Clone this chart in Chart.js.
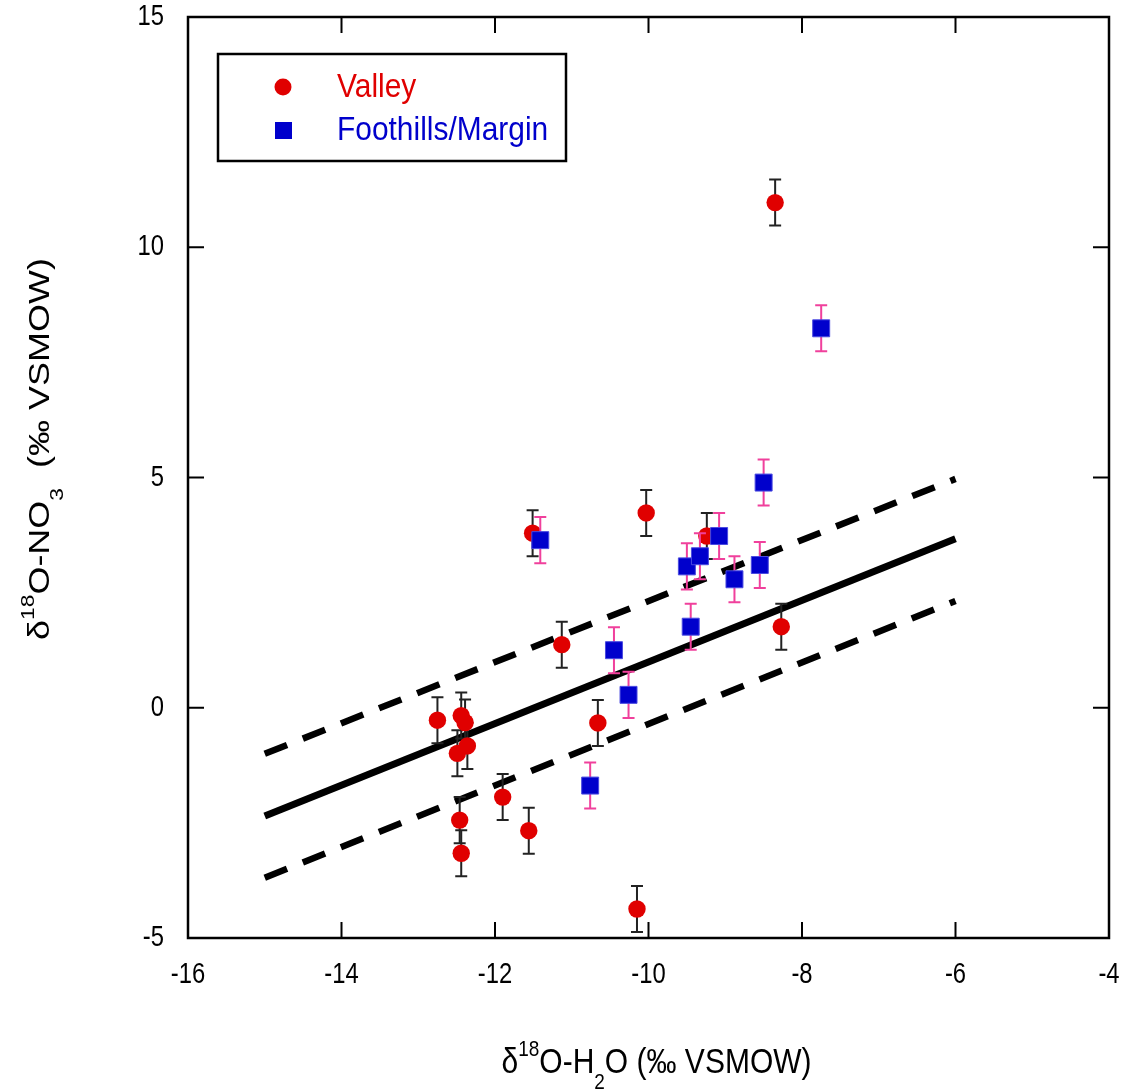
<!DOCTYPE html>
<html lang="en">
<head>
<meta charset="UTF-8">
<title>d18O nitrate vs water</title>
<script src="https://cdn.jsdelivr.net/npm/chart.js"></script>
<style>
  body { margin: 0; background: #fff; }
</style>
</head>
<body>
<canvas id="myChart" width="1122" height="1091"></canvas>
<script>
// Valley wells
const valleyX = [-12.75, -12.44, -12.39, -12.36, -12.49, -12.46, -12.44, -11.90, -11.56, -11.51, -11.13, -10.66, -10.15, -10.03, -9.24, -8.35, -8.27];
const valleyY = [-0.27, -0.17, -0.32, -0.83, -0.99, -2.44, -3.16, -1.94, -2.67, 3.79, 1.37, -0.33, -4.37, 4.23, 3.73, 10.97, 1.76];
const valleyErr = [0.5, 0.5, 0.5, 0.5, 0.5, 0.5, 0.5, 0.5, 0.5, 0.5, 0.5, 0.5, 0.5, 0.5, 0.5, 0.5, 0.5];

// Foothills / margin wells
const footX = [-11.41, -10.76, -10.45, -10.26, -9.50, -9.45, -9.33, -9.08, -8.88, -8.55, -8.50, -7.75];
const footY = [3.64, -1.69, 1.25, 0.28, 3.07, 1.76, 3.29, 3.73, 2.79, 3.10, 4.89, 8.24];
const footErr = [0.5, 0.5, 0.5, 0.5, 0.5, 0.5, 0.5, 0.5, 0.5, 0.5, 0.5, 0.5];

// regression line and its band
const fitX = [-15, -6];
const fitY = [-2.35, 3.67];
const upperY = [-1.0, 4.97];
const lowerY = [-3.69, 2.32];

// axis ticks
const xTicks = [-16, -14, -12, -10, -8, -6, -4];
const yTicks = [-5, 0, 5, 10, 15];

const toPts = (xs, ys) => xs.map((x, i) => ({ x: x, y: ys[i] }));
const FAM = '"Liberation Sans", Arial, sans-serif';

// narrow-looking label (the original figure is squeezed sideways)
function label(ctx, text, x, y, align, size, sx) {
    ctx.save();
    ctx.translate(x, y);
    ctx.scale(sx, 1);
    ctx.font = size + 'px ' + FAM;
    ctx.textAlign = align;
    ctx.textBaseline = 'middle';
    ctx.fillText(text, 0, 0);
    ctx.restore();
}

// draw text with super/subscripts, centred on 0, baseline at 0
function richText(ctx, parts, size) {
    const fontOf = p => ((p.sup || p.sub) ? Math.round(size * 0.62) : size) + 'px ' + FAM;
    const widths = parts.map(p => { ctx.font = fontOf(p); return ctx.measureText(p.t).width; });
    let x = -widths.reduce((a, b) => a + b, 0) / 2;
    ctx.textAlign = 'left';
    ctx.textBaseline = 'alphabetic';
    parts.forEach((p, i) => {
        ctx.font = fontOf(p);
        let dy = 0;
        if (p.sup) dy = -size * 0.5;
        if (p.sub) dy = size * 0.45;
        ctx.fillText(p.t, x, dy);
        x += widths[i];
    });
}

const frame = {
    id: 'frame',
    beforeDatasetDraw(chart, args) {
        // error bars under each scatter set
        const ds = chart.data.datasets[args.index];
        if (!ds.errs) return;
        const ctx = chart.ctx, xs = chart.scales.x, ys = chart.scales.y;
        ctx.save();
        ctx.strokeStyle = ds.errColor;
        ctx.lineWidth = 2;
        ds.data.forEach((p, i) => {
            const px = xs.getPixelForValue(p.x);
            const top = ys.getPixelForValue(p.y + ds.errs[i]);
            const bot = ys.getPixelForValue(p.y - ds.errs[i]);
            ctx.beginPath();
            ctx.moveTo(px, top); ctx.lineTo(px, bot);
            ctx.moveTo(px - 6, top); ctx.lineTo(px + 6, top);
            ctx.moveTo(px - 6, bot); ctx.lineTo(px + 6, bot);
            ctx.stroke();
        });
        ctx.restore();
    },
    afterDraw(chart) {
        const ctx = chart.ctx, a = chart.chartArea;
        const xs = chart.scales.x, ys = chart.scales.y;
        ctx.save();
        ctx.strokeStyle = '#000';
        ctx.lineWidth = 2.5;
        ctx.strokeRect(a.left, a.top, a.right - a.left, a.bottom - a.top);
        // inward ticks
        ctx.lineWidth = 2;
        ctx.beginPath();
        xTicks.forEach(v => {
            const px = xs.getPixelForValue(v);
            ctx.moveTo(px, a.bottom); ctx.lineTo(px, a.bottom - 16);
            ctx.moveTo(px, a.top); ctx.lineTo(px, a.top + 16);
        });
        yTicks.forEach(v => {
            const py = ys.getPixelForValue(v);
            ctx.moveTo(a.left, py); ctx.lineTo(a.left + 16, py);
            ctx.moveTo(a.right, py); ctx.lineTo(a.right - 16, py);
        });
        ctx.stroke();

        // tick labels
        ctx.fillStyle = '#000';
        xTicks.forEach(v => label(ctx, String(v), xs.getPixelForValue(v), a.bottom + 37, 'center', 29, 0.82));
        yTicks.forEach(v => label(ctx, String(v), a.left - 24, ys.getPixelForValue(v), 'right', 29, 0.82));

        // legend box
        const lx = a.left + 30, ly = a.top + 37;
        ctx.lineWidth = 2.5;
        ctx.strokeRect(lx, ly, 348, 107);
        const v = chart.data.datasets[0], f = chart.data.datasets[1];
        ctx.fillStyle = v.backgroundColor;
        ctx.beginPath();
        ctx.arc(lx + 65, ly + 33, 8.5, 0, Math.PI * 2);
        ctx.fill();
        ctx.fillStyle = f.backgroundColor;
        ctx.fillRect(lx + 57, ly + 68, 17, 17);
        ctx.fillStyle = v.backgroundColor;
        label(ctx, v.label, lx + 119, ly + 34, 'left', 34, 0.88);
        ctx.fillStyle = f.backgroundColor;
        label(ctx, f.label, lx + 119, ly + 77, 'left', 34, 0.88);

        // axis titles
        ctx.fillStyle = '#000';
        ctx.save();
        ctx.translate((a.left + a.right) / 2 + 8, 1073);
        ctx.scale(1, 1.15);
        richText(ctx, [{ t: 'δ' }, { t: '18', sup: true }, { t: 'O-H' }, { t: '2', sub: true }, { t: 'O (‰ VSMOW)' }], 30);
        ctx.restore();
        ctx.save();
        ctx.translate(49, 449);
        ctx.rotate(-Math.PI / 2);
        ctx.scale(1.2, 1);
        richText(ctx, [{ t: 'δ' }, { t: '18', sup: true }, { t: 'O-NO' }, { t: '3', sub: true }, { t: '  (‰ VSMOW)' }], 30);
        ctx.restore();
        ctx.restore();
    }
};

let ctx = document.getElementById('myChart');
let configs = {
    type: 'scatter',
    data: {
        datasets: [
            {
                label: 'Valley',
                data: toPts(valleyX, valleyY),
                errs: valleyErr,
                errColor: '#222',
                pointStyle: 'circle',
                pointRadius: 8.7,
                backgroundColor: '#e00000',
                borderWidth: 0,
                order: 1
            },
            {
                label: 'Foothills/Margin',
                data: toPts(footX, footY),
                errs: footErr,
                errColor: '#f0409c',
                pointStyle: 'rect',
                pointRadius: 12,
                backgroundColor: '#0000cc',
                borderColor: '#4a4ae0',
                borderWidth: 1,
                order: 0
            },
            {
                label: 'fit',
                data: toPts(fitX, fitY),
                showLine: true,
                pointRadius: 0,
                borderColor: '#000',
                borderWidth: 7,
                order: 3
            },
            {
                label: 'upper',
                data: toPts(fitX, upperY),
                showLine: true,
                pointRadius: 0,
                borderColor: '#000',
                borderWidth: 6.5,
                borderDash: [24, 17],
                order: 3
            },
            {
                label: 'lower',
                data: toPts(fitX, lowerY),
                showLine: true,
                pointRadius: 0,
                borderColor: '#000',
                borderWidth: 6.5,
                borderDash: [24, 17],
                order: 3
            }
        ]
    },
    options: {
        responsive: false,
        animation: false,
        layout: { padding: { top: 17, right: 11, left: 0, bottom: 0 } },
        plugins: { legend: { display: false }, tooltip: { enabled: false } },
        scales: {
            x: {
                type: 'linear', min: -16, max: -4,
                afterBuildTicks: s => { s.ticks = xTicks.map(v => ({ value: v })); },
                afterFit: s => { s.height = 153; s.paddingLeft = 0; s.paddingRight = 0; },
                ticks: { display: false },
                grid: { display: false, drawTicks: false, tickLength: 0 },
                border: { display: false }
            },
            y: {
                type: 'linear', min: -5, max: 15,
                afterBuildTicks: s => { s.ticks = yTicks.map(v => ({ value: v })); },
                afterFit: s => { s.width = 188; s.paddingTop = 0; s.paddingBottom = 0; },
                ticks: { display: false },
                grid: { display: false, drawTicks: false, tickLength: 0 },
                border: { display: false }
            }
        }
    },
    plugins: [frame]
};
let myChart = new Chart(ctx, configs);
</script>
</body>
</html>
